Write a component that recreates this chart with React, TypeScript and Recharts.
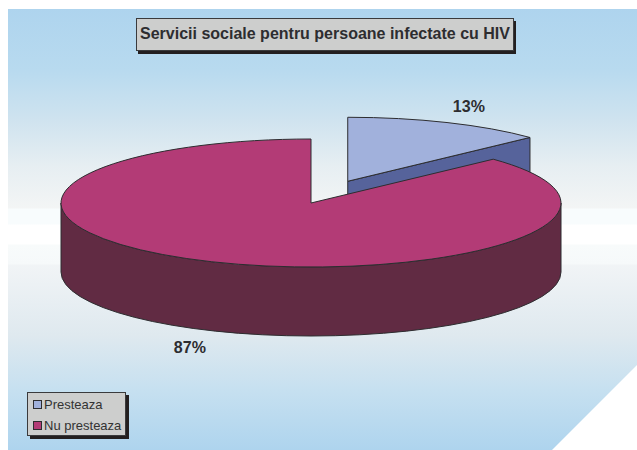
import { Legend, Pie, PieChart } from "recharts";

const CATEGORIES = ["Presteaza", "Nu presteaza"];
const SHARES = [13, 87];
const TOP_COLORS = ["#a1b1dc", "#b33b76"];
const SIDE_COLORS = ["#56639b", "#612b43"];
const EXPLODE = [0.37, 0];

const TITLE = "Servicii sociale pentru persoane infectate cu HIV";

const CHART_W = 637;
const CHART_H = 450;
const CENTER_X = 311;
const CENTER_Y = 203;
const RADIUS_X = 250;
const RADIUS_Y = 64;
const DEPTH = 69;
const EDGE = "#2d2d30";
const RAD = Math.PI / 180;

const BACKGROUND =
  "linear-gradient(180deg, #aed4ee 9px, #b8daef 70px, #cfe3ef 120px, #e6eef2 165px, #f3f5f5 208px, #f8fcfd 209px, #f8fcfd 224px, #ffffff 225px, #ffffff 244px, #f8fbfb 245px, #f6f9fa 264px, #f1f4f6 265px, #dfe9ef 335px, #c6e0f0 390px, #aed4ee 450px)";

const data = CATEGORIES.map((name, i) => ({
  name,
  value: SHARES[i],
  fill: TOP_COLORS[i],
}));

// Pie angles are squashed on to an ellipse to get the tilted look of the original
function offsetFor(index: number, midAngle: number) {
  return {
    dx: RADIUS_X * EXPLODE[index] * Math.cos(midAngle * RAD),
    dy: -RADIUS_Y * EXPLODE[index] * Math.sin(midAngle * RAD),
  };
}

function Slice3D(props: any) {
  const { cx, cy, startAngle, endAngle, fill, index } = props;
  const midAngle = (startAngle + endAngle) / 2;
  const { dx, dy } = offsetFor(index, midAngle);
  const ax = cx + dx;
  const ay = cy + dy;
  const px = (a: number) => ax + RADIUS_X * Math.cos(a * RAD);
  const py = (a: number) => ay - RADIUS_Y * Math.sin(a * RAD);
  const arc = (to: number, from: number, reverse = false, shift = 0) =>
    `A${RADIUS_X} ${RADIUS_Y} 0 ${Math.abs(from - to) > 180 ? 1 : 0} ${reverse ? 0 : 1} ${px(to)} ${py(to) + shift}`;

  const walls: string[] = [];
  // wall on the clockwise cut, only seen when it faces the viewer
  if (Math.cos(endAngle * RAD) > 0.001) {
    walls.push(
      `M${ax} ${ay}L${px(endAngle)} ${py(endAngle)}L${px(endAngle)} ${py(endAngle) + DEPTH}L${ax} ${ay + DEPTH}Z`
    );
  }
  // rim, front half only
  const from = Math.min(startAngle, 0);
  const to = Math.max(endAngle, -180);
  if (from > to) {
    walls.push(
      `M${px(from)} ${py(from)}${arc(to, from)}L${px(to)} ${py(to) + DEPTH}${arc(from, to, true, DEPTH)}Z`
    );
  }

  const top = `M${ax} ${ay}L${px(startAngle)} ${py(startAngle)}${arc(endAngle, startAngle)}Z`;
  return (
    <g>
      {walls.map((d) => (
        <path key={d} d={d} fill={SIDE_COLORS[index]} stroke={EDGE} strokeWidth={1} />
      ))}
      <path d={top} fill={fill} stroke={EDGE} strokeWidth={1} />
    </g>
  );
}

function sliceLabel(props: any) {
  const { midAngle, percent, index } = props;
  const { dx, dy } = offsetFor(index, midAngle);
  const sin = Math.sin(midAngle * RAD);
  const x = CENTER_X + dx + RADIUS_X * 1.22 * Math.cos(midAngle * RAD);
  const y = CENTER_Y + dy - RADIUS_Y * 1.22 * sin + (sin < 0 ? DEPTH + 4 : -3);
  return (
    <text
      key={index}
      x={x}
      y={y}
      textAnchor="middle"
      dominantBaseline="central"
      fontFamily="Liberation Sans"
      fontWeight="bold"
      fontSize={16}
      fill="#2d2d30"
    >
      {`${Math.round(percent * 100)}%`}
    </text>
  );
}

function LegendBox({ payload }: any) {
  return (
    <div
      style={{
        boxSizing: "border-box",
        width: 99,
        height: 44,
        background: "#cdcecd",
        border: "1px solid #3a3a3c",
        boxShadow: "3px 3px 0 #231f20",
        padding: "1px 0 0 5px",
        fontFamily: "Liberation Sans",
        fontSize: 13,
        color: "#333",
      }}
    >
      {(payload || []).map((entry: any) => (
        <div key={entry.value} style={{ display: "flex", alignItems: "center", height: 21 }}>
          <span
            style={{
              boxSizing: "border-box",
              width: 9,
              height: 9,
              marginRight: 2,
              background: entry.color,
              border: "1px solid #2d2d30",
            }}
          />
          {entry.value}
        </div>
      ))}
    </div>
  );
}

export default function App() {
  return (
    <div style={{ position: "absolute", left: 0, top: 0, width: CHART_W, height: CHART_H, background: "#fff" }}>
      <div
        style={{
          position: "absolute",
          inset: 0,
          background: BACKGROUND,
          clipPath: "polygon(8px 9px, 637px 9px, 637px 365px, 552px 450px, 8px 450px)",
        }}
      />
      <div
        style={{
          position: "absolute",
          left: 136,
          top: 18,
          width: 378,
          height: 33,
          boxSizing: "border-box",
          background: "#cdcecd",
          border: "1px solid #3a3a3c",
          boxShadow: "2px 3px 0 #231f20",
          fontFamily: "Liberation Sans",
          fontWeight: "bold",
          fontSize: 16,
          lineHeight: "29px",
          textAlign: "center",
          whiteSpace: "nowrap",
          color: "#2d2d30",
        }}
      >
        {TITLE}
      </div>
      <PieChart
        width={CHART_W}
        height={CHART_H}
        margin={{ top: 0, right: 0, bottom: 0, left: 0 }}
        style={{ position: "absolute", left: 0, top: 0 }}
      >
        <Pie
          data={data}
          dataKey="value"
          nameKey="name"
          cx={CENTER_X}
          cy={CENTER_Y}
          outerRadius={RADIUS_X}
          startAngle={90}
          endAngle={-270}
          shape={Slice3D}
          label={sliceLabel}
          labelLine={false}
          isAnimationActive={false}
        />
        <Legend
          content={<LegendBox />}
          itemSorter={null}
          wrapperStyle={{ position: "absolute", left: 27, top: 392, width: 99, bottom: "auto" }}
        />
      </PieChart>
    </div>
  );
}
